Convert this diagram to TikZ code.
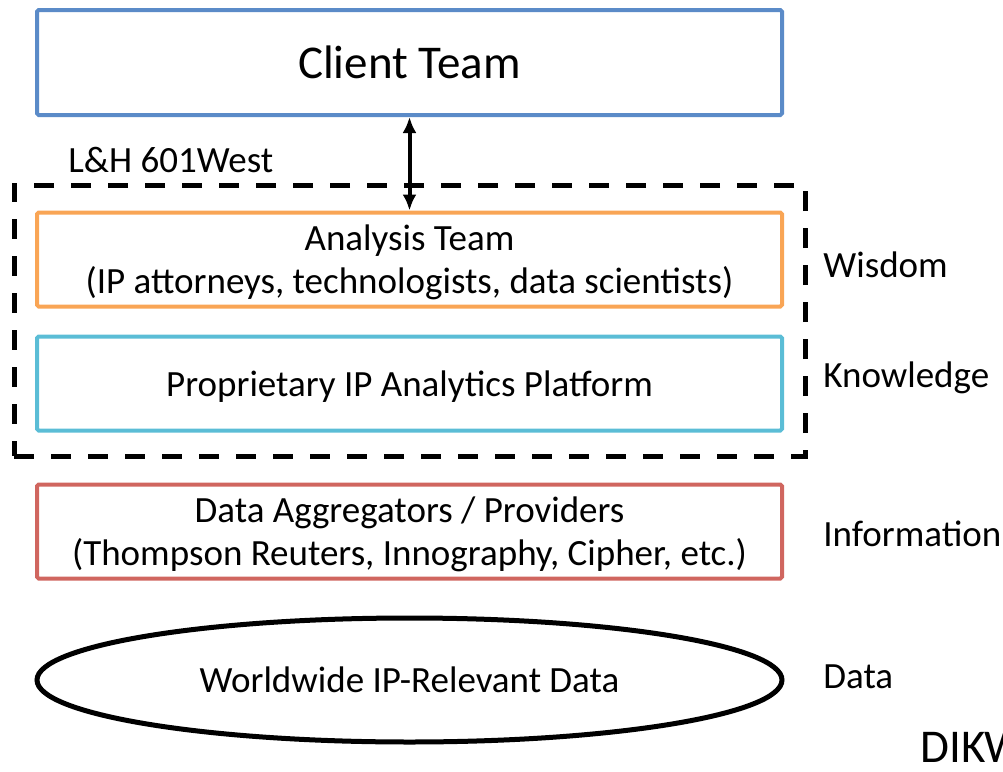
\documentclass[tikz,border=0pt]{standalone}
\usepackage{fontspec}
\setmainfont{Carlito}
\usetikzlibrary{shapes.geometric,arrows.meta}

\definecolor{clientblue}{HTML}{5B8BC8}
\definecolor{teamorange}{HTML}{F9A555}
\definecolor{platcyan}{HTML}{5BBDD6}
\definecolor{aggred}{HTML}{D0665F}

\begin{document}
\begin{tikzpicture}[
            x=0.5pt, y=-0.5pt,
            tier/.style = {
                draw,
                line width=2pt,
                rounded corners=0.8pt,
                minimum width=372.5pt,
                minimum height=47pt,
                inner sep=0pt,
                text depth=0pt,
                align=center,
                font=\fontsize{18.5}{21.5}\selectfont
            },
            side/.style = {
                anchor=west,
                inner sep=0pt,
                font=\fontsize{18.5}{22}\selectfont
            }
        ]
            \useasboundingbox (0,0) rectangle (1003,772);

            \node[tier, draw=clientblue, minimum height=52.5pt,
                  font=\fontsize{23.5}{28}\selectfont] (client) at (409.5,62.5) {Client Team};

            \node[draw, line width=2.5pt, dash pattern=on 10pt off 8.5pt,
                  minimum width=395.5pt, minimum height=135.5pt, inner sep=0pt] (frame) at (409.5,320.5) {};
            \node[side] (lhwest) at (68,160) {L\&H 601West};

            \node[tier, draw=teamorange] (analysis) at (409.5,259.5)
                {Analysis Team\\(IP attorneys, technologists, data scientists)};
            \node[tier, draw=platcyan] (platform) at (409.5,383.5)
                {Proprietary IP Analytics Platform};
            \node[tier, draw=aggred] (aggregators) at (409.5,531.5)
                {Data Aggregators / Providers\\(Thompson Reuters, Innography, Cipher, etc.)};
            \node[draw, ellipse, line width=2.5pt, minimum width=372.5pt, minimum height=62pt,
                  inner sep=0pt, font=\fontsize{18.5}{22}\selectfont] (data) at (409.5,680)
                {Worldwide IP-Relevant Data};

            \draw[line width=2pt, {Latex[length=8pt,width=7pt]}-{Latex[length=8pt,width=7pt]}]
                (client.south) -- (analysis.north);

            \node[side] (wisdom) at (823,265) {Wisdom};
            \node[side] (knowledge) at (823,378) {Knowledge};
            \node[side] (information) at (823,534) {Information};
            \node[side] (datalevel) at (823,677) {Data};
            \node[side, font=\fontsize{23.5}{28}\selectfont] (dikw) at (920,747) {DIKW};

        \end{tikzpicture}
\end{document}
